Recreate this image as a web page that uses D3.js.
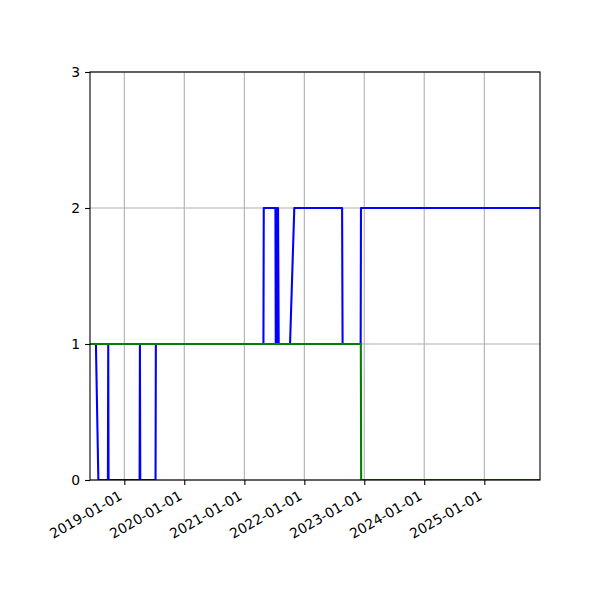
<!DOCTYPE html>
<html>
<head>
<meta charset="utf-8">
<script src="https://cdn.jsdelivr.net/npm/d3@7"></script>
<style>
  body { margin: 0; background: #fff; }
  svg { display: block; }
  .tick text { font-family: "DejaVu Sans", sans-serif; font-size: 13.9px; fill: #000; }
</style>
</head>
<body>
<div id="chart"></div>
<script>
// data
const blueDates = [
  "2018-06-06", "2018-07-12", "2018-07-27", "2018-09-23", "2018-09-25", "2018-09-27",
  "2019-04-04", "2019-04-06", "2019-04-08", "2019-07-10", "2019-07-12",
  "2021-04-27", "2021-04-29", "2021-07-09", "2021-07-11", "2021-07-17", "2021-07-19",
  "2021-07-25", "2021-07-29", "2021-10-06", "2021-11-01",
  "2022-08-19", "2022-08-22", "2022-12-10", "2022-12-12", "2025-12-06"
];
const blueValues = [
  1, 1, 0, 0, 1, 0,
  0, 1, 0, 0, 1,
  1, 2, 2, 1, 2, 1,
  2, 1, 1, 2,
  2, 1, 1, 2, 2
];
const greenDates = ["2018-06-06", "2022-12-11", "2022-12-13", "2025-12-06"];
const greenValues = [1, 1, 0, 0];
const yTicks = [0, 1, 2, 3];
const xTickDates = ["2019-01-01", "2020-01-01", "2021-01-01", "2022-01-01", "2023-01-01", "2024-01-01", "2025-01-01"];

const width = 600, height = 600;
const margin = { top: 72, right: 60, bottom: 120, left: 90 };
const innerW = width - margin.left - margin.right;
const innerH = height - margin.top - margin.bottom;

const parse = d3.utcParse("%Y-%m-%d");
const fmt = d3.utcFormat("%Y-%m-%d");

const blue = blueDates.map((d, i) => ({ date: parse(d), value: blueValues[i] }));
const green = greenDates.map((d, i) => ({ date: parse(d), value: greenValues[i] }));

const x = d3.scaleUtc()
  .domain([parse("2018-06-06"), parse("2025-12-06")])
  .range([0, innerW]);
const y = d3.scaleLinear()
  .domain([0, 3])
  .range([innerH, 0]);

const svg = d3.select("#chart").append("svg")
  .attr("width", width)
  .attr("height", height);

const g = svg.append("g")
  .attr("transform", "translate(" + margin.left + "," + margin.top + ")");

g.append("clipPath").attr("id", "clip")
  .append("rect").attr("width", innerW).attr("height", innerH);

// grid
const xTicks = xTickDates.map(parse);
g.append("g").selectAll("line").data(xTicks).join("line")
  .attr("x1", d => x(d)).attr("x2", d => x(d))
  .attr("y1", 0).attr("y2", innerH)
  .attr("stroke", "#b0b0b0").attr("stroke-width", 1.1);
g.append("g").selectAll("line").data(yTicks).join("line")
  .attr("x1", 0).attr("x2", innerW)
  .attr("y1", d => y(d)).attr("y2", d => y(d))
  .attr("stroke", "#b0b0b0").attr("stroke-width", 1.1);

// lines
const line = d3.line()
  .x(d => x(d.date))
  .y(d => y(d.value));

const plot = g.append("g").attr("clip-path", "url(#clip)");
plot.append("path")
  .datum(blue)
  .attr("fill", "none")
  .attr("stroke", "#0000ff")
  .attr("stroke-width", 2.08)
  .attr("stroke-linejoin", "round")
  .attr("d", line);
plot.append("path")
  .datum(green)
  .attr("fill", "none")
  .attr("stroke", "#008000")
  .attr("stroke-width", 2.08)
  .attr("stroke-linejoin", "round")
  .attr("d", line);

// axes
const xAxis = g.append("g")
  .attr("transform", "translate(0," + innerH + ")")
  .call(d3.axisBottom(x).tickValues(xTicks).tickFormat(fmt).tickSize(4.9).tickPadding(4.9));
// rotated labels: top-right of the rotated box sits just under the tick
xAxis.selectAll(".tick text")
  .attr("text-anchor", "end")
  .attr("x", 0).attr("y", 0).attr("dy", 0)
  .attr("transform", "translate(-1.6,18.7) rotate(-30)");

const yAxis = g.append("g")
  .call(d3.axisLeft(y).tickValues(yTicks).tickFormat(d3.format("d")).tickSize(4.9).tickPadding(4.9));

[xAxis, yAxis].forEach(a => {
  a.select(".domain").remove();
  a.selectAll(".tick line").attr("stroke", "#000").attr("stroke-width", 1.1);
});

// spines
g.append("rect")
  .attr("width", innerW).attr("height", innerH)
  .attr("fill", "none").attr("stroke", "#000").attr("stroke-width", 1.1);
</script>
</body>
</html>
